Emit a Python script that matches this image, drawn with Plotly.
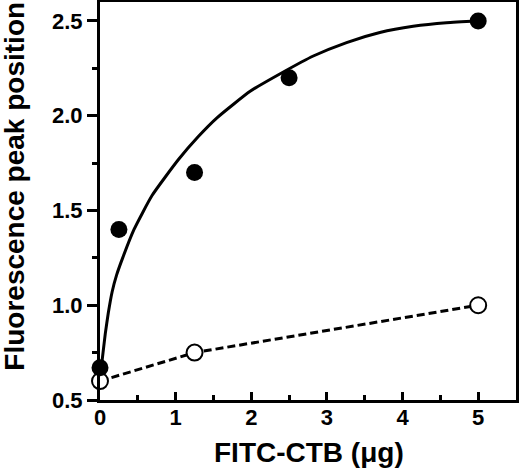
import plotly.graph_objects as go

# Data
filled_x = [0, 0.25, 1.25, 2.5, 5]
filled_y = [0.67, 1.40, 1.70, 2.20, 2.50]

open_x = [0, 1.25, 5]
open_y = [0.60, 0.75, 1.00]

# fitted curve
fit_x = [0, 0.02, 0.04, 0.07, 0.11, 0.16, 0.22, 0.30, 0.45, 0.69, 1.04, 1.30, 1.55, 1.99, 2.43, 2.82, 3.26, 3.70, 4.14, 4.58, 5.0]
fit_y = [0.61, 0.68, 0.75, 0.85, 0.96, 1.07, 1.16, 1.25, 1.40, 1.58, 1.77, 1.89, 1.99, 2.13, 2.232, 2.315, 2.386, 2.439, 2.472, 2.491, 2.50]

x_ticks = [0, 1, 2, 3, 4, 5]
y_ticks = [0.5, 1.0, 1.5, 2.0, 2.5]

x_title = "FITC-CTB (μg)"
y_title = "Fluorescence peak position"

FONT = "Liberation Sans, Arial, sans-serif"

fig = go.Figure()
fig.add_trace(go.Scatter(x=fit_x, y=fit_y, mode="lines", line=dict(color="black", width=3, shape="spline", smoothing=0.5),
                         cliponaxis=False, showlegend=False, hoverinfo="skip"))
fig.add_trace(go.Scatter(x=open_x, y=open_y, mode="lines+markers",
                         line=dict(color="black", width=3, dash="8px,4px"),
                         marker=dict(symbol="circle", size=16, color="white", line=dict(color="black", width=2)),
                         cliponaxis=False, showlegend=False))
fig.add_trace(go.Scatter(x=filled_x, y=filled_y, mode="markers",
                         marker=dict(symbol="circle", size=17, color="black", line=dict(color="black", width=0)),
                         cliponaxis=False, showlegend=False))

fig.update_layout(
    template="none",
    width=520, height=472,
    margin=dict(l=100, r=4, t=2, b=72, autoexpand=False),
    paper_bgcolor="white", plot_bgcolor="white",
    font=dict(family=FONT, color="black"),
    xaxis=dict(
        range=[0, 5.5], tickvals=x_ticks, ticktext=[str(v) for v in x_ticks],
        showgrid=False, zeroline=False, automargin=False,
        showline=True, linecolor="black", linewidth=3, mirror=True,
        ticks="inside", ticklen=8, tickwidth=2.5, tickcolor="black",
        minor=dict(ticks="inside", ticklen=5, tickwidth=2.5, dtick=0.5, tick0=0, tickcolor="black", showgrid=False),
        tickfont=dict(family=FONT, size=22, weight="bold"),
        ticklabelstandoff=-4,
    ),
    yaxis=dict(
        range=[0.5, 2.6], tickvals=y_ticks, ticktext=[f"{v:.1f}" for v in y_ticks],
        showgrid=False, zeroline=False, automargin=False,
        showline=True, linecolor="black", linewidth=3, mirror=True,
        ticks="outside", ticklen=10, tickwidth=2.5, tickcolor="black",
        minor=dict(ticks="outside", ticklen=5, tickwidth=2.5, dtick=0.25, tick0=0.5, tickcolor="black", showgrid=False),
        tickfont=dict(family=FONT, size=22, weight="bold"),
    ),
    annotations=[
        dict(text=x_title, xref="paper", yref="paper", x=0.502, y=-0.131, xanchor="center", yanchor="middle",
             showarrow=False, font=dict(family=FONT, size=28, weight="bold")),
        dict(text=y_title, xref="paper", yref="paper", x=-0.2043, y=0.536, xanchor="center", yanchor="middle",
             textangle=-90, showarrow=False, font=dict(family=FONT, size=28, weight="bold")),
    ],
)

fig.write_html("out.html", config={"displayModeBar": False},
               post_script="document.body.style.margin='0';")
